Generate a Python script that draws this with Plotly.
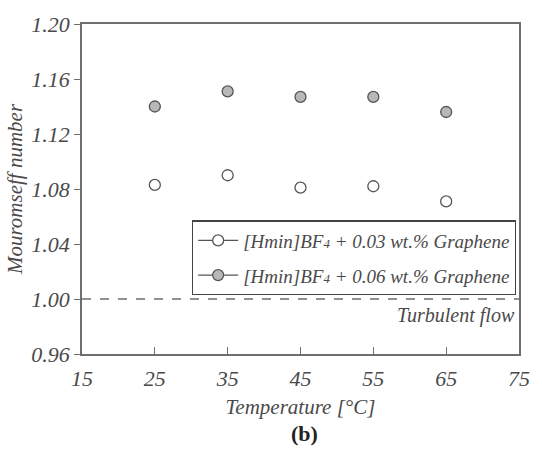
import plotly.graph_objects as go

# Temperature (°C) and Mouromseff number for each nanofluid
temperature = [25, 35, 45, 55, 65]
mo_003 = [1.083, 1.090, 1.081, 1.082, 1.071]
mo_006 = [1.140, 1.151, 1.147, 1.147, 1.136]

series_names = [
    "<i>[Hmin]BF<span style='font-size:13px'>4</span> + 0.03 wt.% Graphene</i>",
    "<i>[Hmin]BF<span style='font-size:13px'>4</span> + 0.06 wt.% Graphene</i>",
]
x_ticks = [15, 25, 35, 45, 55, 65, 75]
y_ticks = [0.96, 1.00, 1.04, 1.08, 1.12, 1.16, 1.20]

FONT = "Liberation Serif"
TXT = "#4a4a4a"
AX = "#6e6e6e"
fills = ["white", "#b8b8b8"]

fig = go.Figure()
for i, (vals, name, fill) in enumerate(zip([mo_003, mo_006], series_names, fills)):
    # data points (markers only)
    fig.add_trace(go.Scatter(
        x=temperature, y=vals, mode="markers", showlegend=False,
        marker=dict(size=11, color=fill, line=dict(color="#555555", width=1.3)),
    ))
    # legend entry drawn with a line through the marker
    fig.add_trace(go.Scatter(
        x=[None], y=[None], mode="lines+markers", name=name, legendgroup=f"g{i}",
        line=dict(color="#555555", width=1.3),
        marker=dict(size=11, color=fill, line=dict(color="#555555", width=1.3)),
    ))

# turbulent-flow reference line at Mo = 1
fig.add_shape(type="line", xref="paper", x0=0, x1=1, yref="y", y0=1.0, y1=1.0,
              line=dict(color=AX, width=1.5, dash="dash"))
fig.add_annotation(text="<i>Turbulent flow</i>", xref="paper", x=0.995, y=0.9975,
                   yref="y", xanchor="right", yanchor="top", showarrow=False,
                   font=dict(family=FONT, size=20, color=TXT))
fig.add_annotation(text="<b>(b)</b>", xref="paper", yref="paper", x=0.51, y=-0.24,
                   xanchor="center", yanchor="middle", showarrow=False,
                   font=dict(family=FONT, size=22, color="#222222"))

fig.update_layout(
    width=542, height=452,
    margin=dict(l=82, r=19, t=14, b=98),
    paper_bgcolor="white", plot_bgcolor="white",
    font=dict(family=FONT, color=TXT),
    legend=dict(
        x=0.993, y=0.405, xanchor="right", yanchor="top",
        bgcolor="white", bordercolor="#444444", borderwidth=1.2,
        font=dict(family=FONT, size=19, color=TXT),
        itemwidth=40, tracegroupgap=7,
    ),
    xaxis=dict(
        range=[15, 75], tickvals=x_ticks, ticktext=[f"<i>{v}</i>" for v in x_ticks],
        showgrid=False, zeroline=False, showline=True, linecolor=AX, linewidth=1.5,
        mirror=True, ticks="inside", ticklen=7, tickcolor=AX, tickwidth=1.3,
        ticklabelstandoff=4,
        tickfont=dict(family=FONT, size=22, color=TXT),
        title=dict(text="<i>Temperature [°C]</i>", font=dict(family=FONT, size=21, color=TXT),
                   standoff=9),
    ),
    yaxis=dict(
        range=[0.96, 1.20], tickvals=y_ticks, ticktext=[f"<i>{v:.2f}</i>" for v in y_ticks],
        showgrid=False, zeroline=False, showline=True, linecolor=AX, linewidth=1.5,
        mirror=True, ticks="outside", ticklen=6, tickcolor=AX, tickwidth=1.3,
        tickfont=dict(family=FONT, size=22, color=TXT),
        title=dict(text="<i>Mouromseff number</i>", font=dict(family=FONT, size=21, color=TXT),
                   standoff=3),
    ),
)

fig.write_html("out.html")
